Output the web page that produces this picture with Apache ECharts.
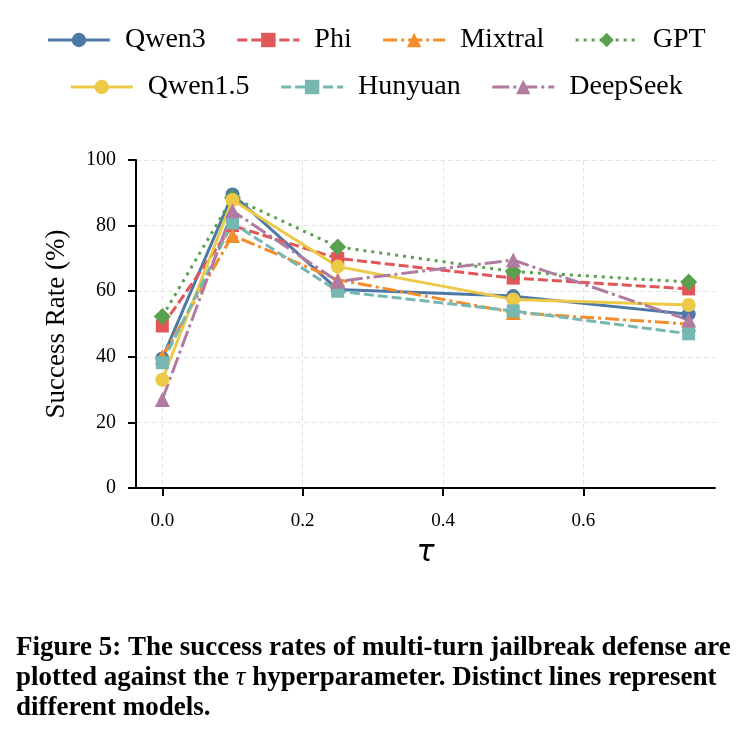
<!DOCTYPE html>
<html>
  <head>
    <meta charset="UTF-8">
    <script src="https://cdn.jsdelivr.net/npm/echarts@6/dist/echarts.min.js"></script>
    <title>Success rate vs tau</title>
    <style>
      html, body { margin: 0; padding: 0; background: #fff; }
    </style>
  </head>
  <body>
    <div id="main" style="width: 752px;height:742px;"></div>
    <script type="text/javascript">
      // tau values on the x axis
      var tau = [0, 0.1, 0.25, 0.5, 0.75];
      var xTicks = [0, 0.2, 0.4, 0.6];

      // success rate (%) per model
      var qwen3    = [39.5, 89.5, 60.5, 58.5, 53.0];
      var phi      = [49.4, 80.0, 70.0, 64.0, 60.7];
      var mixtral  = [40.0, 77.0, 63.5, 53.5, 50.0];
      var gpt      = [52.3, 88.5, 73.5, 66.0, 62.8];
      var qwen15   = [33.0, 87.8, 67.5, 57.5, 55.8];
      var hunyuan  = [38.2, 80.8, 60.0, 54.0, 47.0];
      var deepseek = [27.0, 84.5, 63.0, 69.5, 51.2];

      var font = 'Liberation Serif';

      function pairs(ys) {
        return tau.map(function (t, i) { return [t, ys[i]]; });
      }

      function mk(name, ys, color, symbol, size, dash) {
        return {
          name: name,
          type: 'line',
          data: pairs(ys),
          symbol: symbol,
          symbolSize: size,
          animation: false,
          itemStyle: { color: color, opacity: 1 },
          lineStyle: { color: color, width: 3, type: dash, cap: 'butt' }
        };
      }

      var legendText = { fontFamily: font, fontSize: 28, color: '#000', padding: [0, 0, 0, 10] };

      var myChart = echarts.init(document.getElementById('main'));

      var option = {
        backgroundColor: '#fff',
        textStyle: { fontFamily: font },
        legend: [{
          data: ['Qwen3', 'Phi', 'Mixtral', 'GPT'],
          top: 21,
          left: 'center',
          itemWidth: 62,
          itemHeight: 18,
          itemGap: 30,
          lineStyle: { width: 3 },
          textStyle: legendText
        }, {
          data: ['Qwen1.5', 'Hunyuan', 'DeepSeek'],
          top: 68,
          left: 'center',
          itemWidth: 62,
          itemHeight: 18,
          itemGap: 30,
          lineStyle: { width: 3 },
          textStyle: legendText
        }],
        grid: { left: 136, right: 37, top: 160, bottom: 254, containLabel: false },
        xAxis: {
          type: 'value',
          min: -0.0375,
          max: 0.7875,
          name: 'τ',
          nameLocation: 'middle',
          nameGap: 50,
          nameTextStyle: { fontFamily: 'DejaVu Sans', fontStyle: 'italic', fontSize: 30, color: '#000' },
          axisLine: { show: true, onZero: false, lineStyle: { color: '#000', width: 2 } },
          axisTick: { show: true, length: 8, customValues: xTicks, lineStyle: { color: '#000', width: 2 } },
          axisLabel: {
            customValues: xTicks,
            fontSize: 19, color: '#000', margin: 24,
            formatter: function (v) { return v.toFixed(1); }
          },
          splitLine: { show: true, lineStyle: { color: '#e3e3e3', width: 1, type: [5, 3] } }
        },
        yAxis: {
          type: 'value',
          min: 0,
          max: 100,
          interval: 20,
          name: 'Success Rate (%)',
          nameLocation: 'middle',
          nameGap: 66,
          nameTextStyle: { fontFamily: font, fontSize: 27, color: '#000' },
          axisLine: { show: true, onZero: false, lineStyle: { color: '#000', width: 2 } },
          axisTick: { show: true, length: 8, lineStyle: { color: '#000', width: 2 } },
          axisLabel: { fontSize: 20, color: '#000', margin: 20 },
          splitLine: { show: true, lineStyle: { color: '#e3e3e3', width: 1, type: [5, 3] } }
        },
        series: [
          mk('Qwen3', qwen3, '#4e79a7', 'circle', 14, 'solid'),
          mk('Phi', phi, '#e15759', 'rect', 13, [10, 4]),
          mk('Mixtral', mixtral, '#f28e2b', 'triangle', 15, [14, 4, 3, 4]),
          mk('GPT', gpt, '#59a14f', 'diamond', 17, [3, 5]),
          mk('Qwen1.5', qwen15, '#edc948', 'circle', 14, 'solid'),
          mk('Hunyuan', hunyuan, '#76b7b2', 'rect', 13, [10, 4]),
          mk('DeepSeek', deepseek, '#b07aa1', 'triangle', 15, [17, 4, 3, 4])
        ],
        graphic: [{
          type: 'text',
          left: 16,
          top: 633,
          style: {
            text: 'Figure 5: The success rates of multi-turn jailbreak defense are\n' +
                  'plotted against the {i|τ} hyperparameter. Distinct lines represent\n' +
                  'different models.',
            fontFamily: font,
            fontWeight: 'bold',
            fontSize: 27,
            lineHeight: 30,
            fill: '#000',
            rich: {
              i: { fontFamily: font, fontStyle: 'italic', fontWeight: 'normal', fontSize: 27, lineHeight: 30 }
            }
          }
        }]
      };

      myChart.setOption(option);
    </script>
  </body>
</html>
